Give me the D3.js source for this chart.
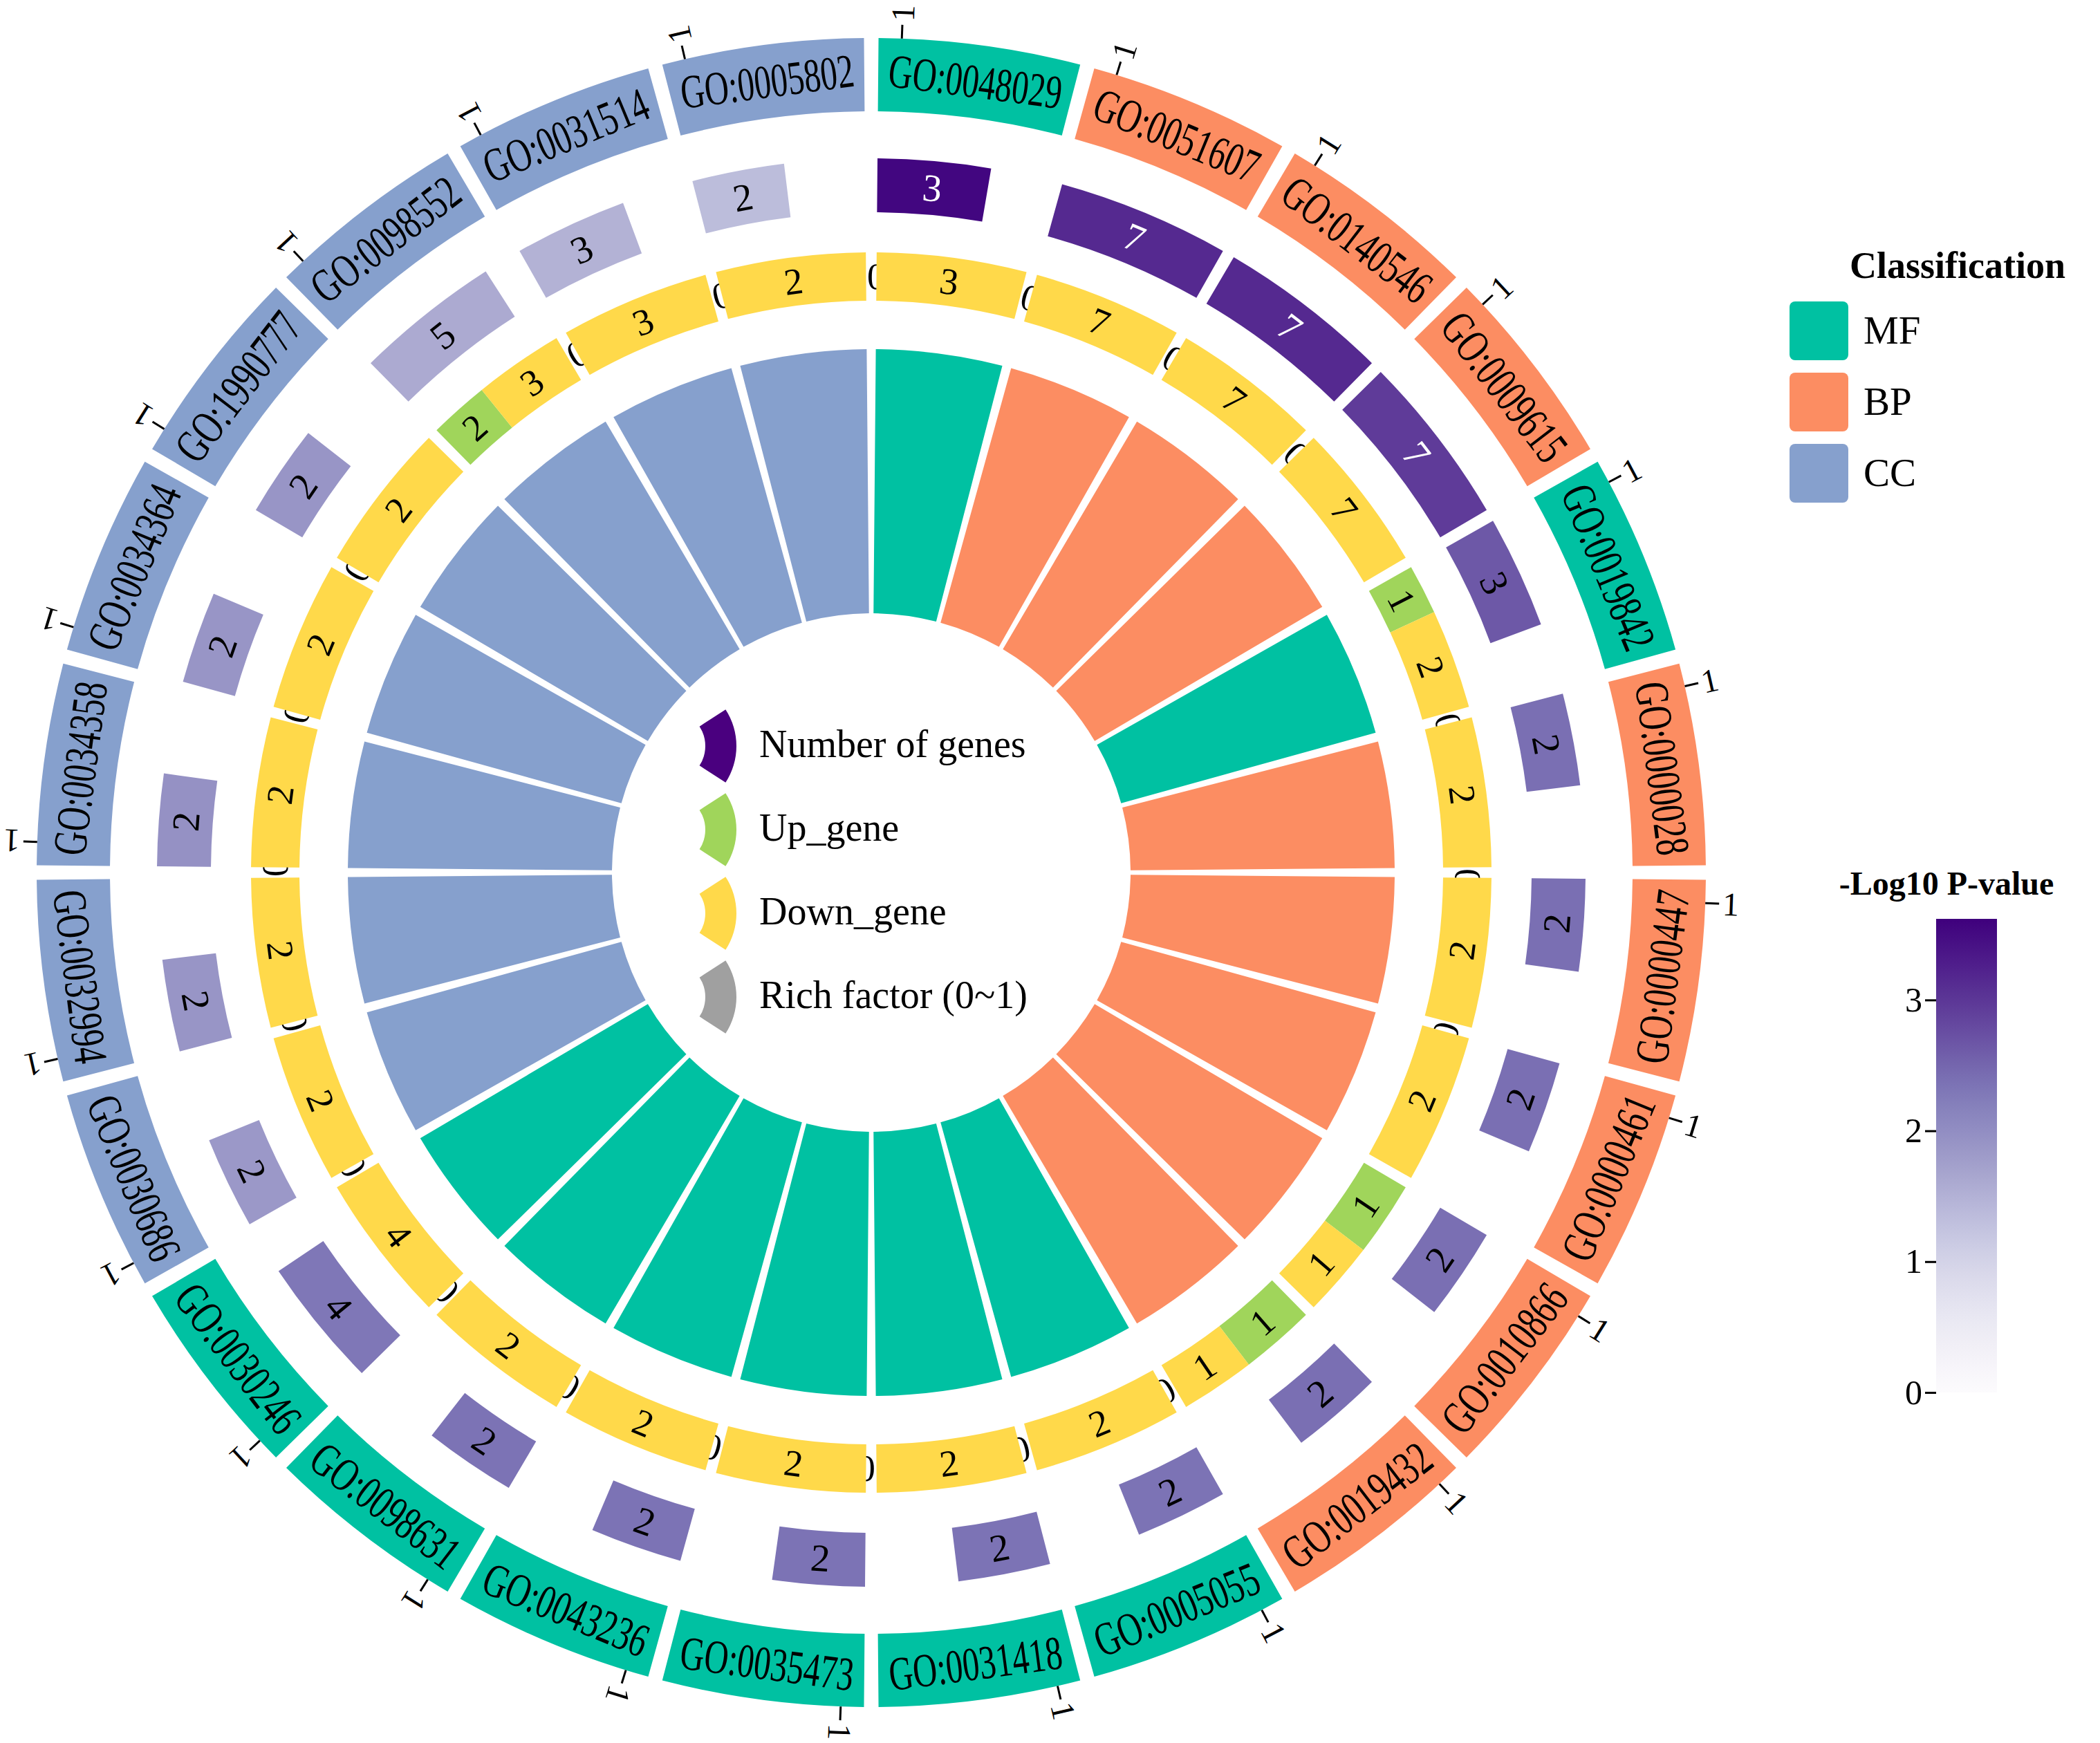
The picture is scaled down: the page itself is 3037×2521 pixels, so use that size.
<!DOCTYPE html>
<html><head><meta charset="utf-8">
<script src="https://cdn.jsdelivr.net/npm/d3@7"></script>
<style>body{margin:0;background:#fff}</style>
</head><body>
<svg id="chart" width="3037" height="2521"></svg>
<script>
// ---------------- data ----------------
const goIds = ["GO:0048029","GO:0051607","GO:0140546","GO:0009615","GO:0019842","GO:0000028",
  "GO:0000447","GO:0000461","GO:0010866","GO:0019432","GO:0005055","GO:0031418",
  "GO:0035473","GO:0043236","GO:0098631","GO:0030246","GO:0030686","GO:0032994",
  "GO:0034358","GO:0034364","GO:1990777","GO:0098552","GO:0031514","GO:0005802"];
const classes = ["MF","BP","BP","BP","MF","BP","BP","BP","BP","BP","MF","MF",
  "MF","MF","MF","MF","CC","CC","CC","CC","CC","CC","CC","CC"];
const geneNums = [3,7,7,7,3,2,2,2,2,2,2,2,2,2,2,4,2,2,2,2,2,5,3,2];
const upGenes   = [0,0,0,0,1,0,0,0,1,1,0,0,0,0,0,0,0,0,0,0,0,2,0,0];
const downGenes = [3,7,7,7,2,2,2,2,1,1,2,2,2,2,2,4,2,2,2,2,2,3,3,2];
const negLog10P = [3.55,3.15,3.15,2.95,2.65,2.4,2.4,2.4,2.4,2.4,2.35,2.35,
  2.35,2.35,2.35,2.3,1.85,1.9,1.95,1.9,1.9,1.6,1.5,1.35];
const richFactor = [1,1,1,1,1,1,1,1,1,1,1,1,1,1,1,1,1,1,1,1,1,1,1,1];
const classNames = ["MF","BP","CC"];
const classColors = ["#00C1A2","#FC8D62","#86A0CD"];
const pTicks = [0,1,2,3];
const pMax = 3.62;
const centerLegend = ["Number of genes","Up_gene","Down_gene","Rich factor (0~1)"];
const centerLegendColors = ["#4A007F","#A0D55B","#FFD94A","#A0A0A0"];
const upColor = "#A0D55B", downColor = "#FFD94A";

// ---------------- layout ----------------
const svg = d3.select("#chart");
svg.append("rect").attr("width",3037).attr("height",2521).attr("fill","#fff");
const FONT = "'Liberation Serif','Times New Roman',serif";
const cx = 1260, cy = 1262;
const R = {outer:[1101,1207], num:[955,1033], ud:[827,897], rich:[375,757]};
const g = svg.append("g").attr("transform",`translate(${cx},${cy})`);

const band = d3.scaleBand().domain(goIds).range([0, 2*Math.PI]).paddingInner(1/15).paddingOuter(1/30);
const bw = band.bandwidth();
const colorCls = d3.scaleOrdinal().domain(classNames).range(classColors);
const colorP = d3.scaleSequential(d3.interpolatePurples).domain([0, pMax]);
const numW = d3.scaleSqrt().domain([0, d3.max(geneNums)]).range([0, bw]);
const richR = d3.scaleLinear().domain([0,1]).range(R.rich);
const arc = d3.arc();
const deg = a => a*180/Math.PI;
const pos = (a, r) => [r*Math.sin(a), -r*Math.cos(a)];
function tangRot(a){ const d = deg(a)%360; return (d>90 && d<270) ? d-180 : d; }

const data = goIds.map((id,i)=>({id, cls:classes[i], n:geneNums[i], up:upGenes[i], down:downGenes[i],
  p:negLog10P[i], rich:richFactor[i], a0:band(id)}));

// outer ring
g.selectAll(".outer").data(data).join("path")
  .attr("d", d=>arc({innerRadius:R.outer[0], outerRadius:R.outer[1], startAngle:d.a0, endAngle:d.a0+bw}))
  .attr("fill", d=>colorCls(d.cls));
const rMidO = (R.outer[0]+R.outer[1])/2;
g.selectAll(".olab").data(data).join("text")
  .attr("transform", d=>{const a=d.a0+bw/2, p=pos(a,rMidO); return `translate(${p[0]},${p[1]}) rotate(${tangRot(a)}) scale(0.70,1)`;})
  .attr("text-anchor","middle").attr("dominant-baseline","central")
  .attr("font-family",FONT).attr("font-size",69).attr("fill","#000").text(d=>d.id);

// axis ticks "1"
const tickOff = 1.6*Math.PI/180;
g.selectAll(".tick").data(data).join("line")
  .attr("x1", d=>pos(d.a0+tickOff,R.outer[1])[0]).attr("y1", d=>pos(d.a0+tickOff,R.outer[1])[1])
  .attr("x2", d=>pos(d.a0+tickOff,R.outer[1]+20)[0]).attr("y2", d=>pos(d.a0+tickOff,R.outer[1]+20)[1])
  .attr("stroke","#000").attr("stroke-width",3);
g.selectAll(".ticklab").data(data).join("text")
  .attr("transform", d=>{const a=d.a0+tickOff, p=pos(a,R.outer[1]+37); return `translate(${p[0]},${p[1]}) rotate(${deg(a)-90})`;})
  .attr("text-anchor","middle").attr("dominant-baseline","central")
  .attr("font-family",FONT).attr("font-size",48).text("1");

// number of genes ring
g.selectAll(".num").data(data).join("path")
  .attr("d", d=>arc({innerRadius:R.num[0], outerRadius:R.num[1], startAngle:d.a0, endAngle:d.a0+numW(d.n)}))
  .attr("fill", d=>colorP(d.p));
const rMidN = (R.num[0]+R.num[1])/2;
g.selectAll(".numlab").data(data).join("text")
  .attr("transform", d=>{const a=d.a0+numW(d.n)/2, p=pos(a,rMidN); return `translate(${p[0]},${p[1]}) rotate(${tangRot(a)})`;})
  .attr("text-anchor","middle").attr("dominant-baseline","central")
  .attr("font-family",FONT).attr("font-size",56).attr("fill", d=>d.p>2.8?"#fff":"#000").text(d=>d.n);

// up / down ring
const rMidU = (R.ud[0]+R.ud[1])/2;
const udScale = d => d3.scaleLinear().domain([0, d.up+d.down]).range([0,bw]);
g.selectAll(".up").data(data).join("path")
  .attr("d", d=>arc({innerRadius:R.ud[0], outerRadius:R.ud[1], startAngle:d.a0, endAngle:d.a0+udScale(d)(d.up)}))
  .attr("fill", upColor);
g.selectAll(".uplab").data(data).join("text")
  .attr("transform", d=>{const a=d.a0+udScale(d)(d.up)/2, p=pos(a,rMidU); return `translate(${p[0]},${p[1]}) rotate(${tangRot(a)})`;})
  .attr("text-anchor","middle").attr("dominant-baseline","central")
  .attr("font-family",FONT).attr("font-size",54).text(d=>d.up);
g.selectAll(".down").data(data).join("path")
  .attr("d", d=>{const s=udScale(d); return arc({innerRadius:R.ud[0], outerRadius:R.ud[1], startAngle:d.a0+s(d.up), endAngle:d.a0+s(d.up+d.down)});})
  .attr("fill", downColor);
g.selectAll(".downlab").data(data).join("text")
  .attr("transform", d=>{const s=udScale(d); const a=d.a0+(s(d.up)+s(d.up+d.down))/2, p=pos(a,rMidU); return `translate(${p[0]},${p[1]}) rotate(${tangRot(a)})`;})
  .attr("text-anchor","middle").attr("dominant-baseline","central")
  .attr("font-family",FONT).attr("font-size",54).text(d=>d.down);

// rich factor ring
g.selectAll(".rich").data(data).join("path")
  .attr("d", d=>arc({innerRadius:R.rich[0], outerRadius:richR(d.rich), startAngle:d.a0, endAngle:d.a0+bw}))
  .attr("fill", d=>colorCls(d.cls));

// center legend
const legY = d3.scaleLinear().domain([0,3]).range([1079,1442]);
const cl = svg.append("g");
centerLegend.forEach((t,i)=>{
  const y = legY(i);
  cl.append("path").attr("transform",`translate(968,${y})`)
    .attr("d", arc({innerRadius:52, outerRadius:97, startAngle:Math.PI/2-0.576, endAngle:Math.PI/2+0.576}))
    .attr("fill", centerLegendColors[i]);
  cl.append("text").attr("x",1098).attr("y",y+16).attr("font-family",FONT).attr("font-size",56).text(t);
});

// classification legend
const lg = svg.append("g");
lg.append("text").attr("x",2675).attr("y",402).attr("font-family",FONT).attr("font-weight","bold").attr("font-size",54).text("Classification");
classNames.forEach((c,i)=>{
  const y = 436 + i*103;
  lg.append("rect").attr("x",2588).attr("y",y).attr("width",85).attr("height",85).attr("rx",8).attr("fill",classColors[i]);
  lg.append("text").attr("x",2695).attr("y",y+61).attr("font-family",FONT).attr("font-size",57).text(c);
});

// colour bar
const defs = svg.append("defs");
const grad = defs.append("linearGradient").attr("id","pgrad").attr("x1",0).attr("y1",1).attr("x2",0).attr("y2",0);
d3.range(0,1.0001,0.05).forEach(t=>grad.append("stop").attr("offset",t).attr("stop-color",d3.interpolatePurples(t)));
const yP = d3.scaleLinear().domain([0,pMax]).range([2014,1329]);
svg.append("text").attr("x",2815).attr("y",1294).attr("text-anchor","middle").attr("font-family",FONT)
  .attr("font-weight","bold").attr("font-size",48).text("-Log10 P-value");
svg.append("rect").attr("x",2800).attr("y",yP(pMax)).attr("width",88).attr("height",yP(0)-yP(pMax)).attr("fill","url(#pgrad)");
const ax = svg.append("g").attr("transform","translate(2800,0)")
  .call(d3.axisLeft(yP).tickValues(pTicks).tickSize(16).tickPadding(4).tickFormat(d3.format("d")));
ax.select(".domain").remove();
ax.selectAll("line").attr("stroke","#000").attr("stroke-width",3);
ax.selectAll("text").attr("font-family",FONT).attr("font-size",50).attr("fill","#000");
</script>
</body></html>
